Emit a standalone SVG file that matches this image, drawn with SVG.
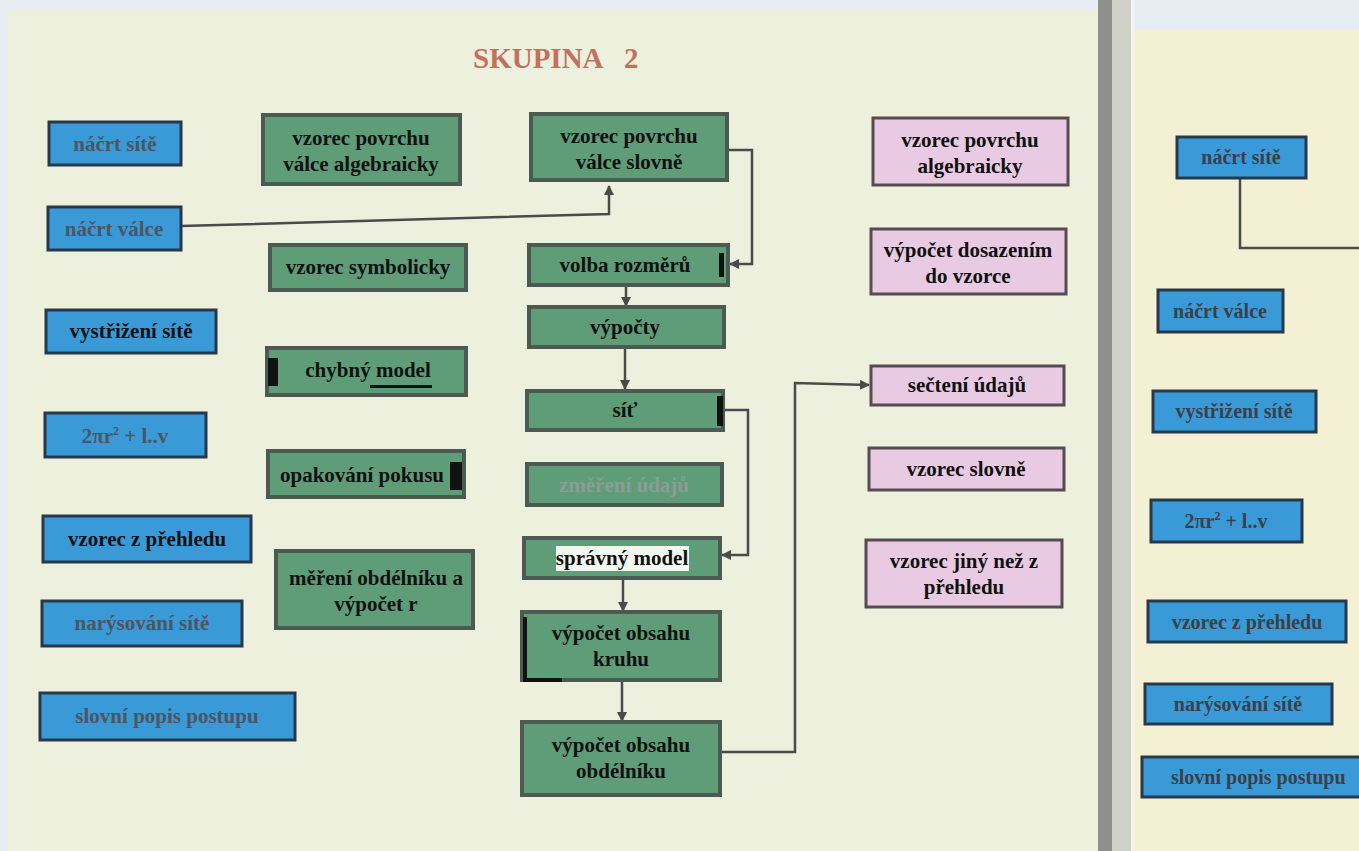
<svg xmlns="http://www.w3.org/2000/svg" width="1359" height="851" viewBox="0 0 1359 851">
  <style>
    .t { font-family: "Liberation Serif", "Times New Roman", serif; font-weight: bold; font-size: 21px; text-anchor: middle; fill: #111; }
    .gray { fill: #4c5560; }
    .pale { fill: #8d9c94; }
    .rt { font-family: "Liberation Serif", "Times New Roman", serif; font-weight: bold; font-size: 20px; text-anchor: middle; fill: #3a3f48; }
    .rts { font-family: "Liberation Serif", "Times New Roman", serif; font-weight: bold; font-size: 20px; text-anchor: start; fill: #3a3f48; }
    .blue { fill: #3a9ad8; stroke: #27384a; stroke-width: 3; }
    .green { fill: #5f9c78; stroke: #4d5a52; stroke-width: 4; }
    .pink { fill: #e8cbe3; stroke: #574b52; stroke-width: 3; }
    .edge { fill: none; stroke: #4a4a4a; stroke-width: 2.5; }
    .title { font-family: "Liberation Serif", "Times New Roman", serif; font-weight: bold; font-size: 29px; fill: #c5705f; }
  </style>
  <defs>
    <marker id="arr" viewBox="0 0 10 10" refX="9" refY="5" markerWidth="4" markerHeight="4" orient="auto">
      <path d="M0,0 L10,5 L0,10 z" fill="#4a4a4a"/>
    </marker>
  </defs>

  <!-- paper and binding -->
  <rect x="0" y="0" width="1359" height="851" fill="#e7edf2"/>
  <rect x="8" y="10" width="1095" height="841" fill="#edf0dc"/>
  <rect x="1098" y="0" width="14" height="851" fill="#8f8f8c"/>
  <rect x="1112" y="0" width="22" height="851" fill="#cfd0c8"/>
  <rect x="1131" y="0" width="3" height="851" fill="#f2f4f4"/>
  <rect x="1134" y="30" width="225" height="821" fill="#f4f0d3"/>

  <text class="title" x="473" y="68">SKUPINA<tspan x="624">2</tspan></text>

  <!-- connectors -->
  <g id="connectors">
    <path class="edge" d="M181,226 L609,214 L609,186" marker-end="url(#arr)"/>
    <path class="edge" d="M727,150 L752,150 L752,264 L730,264" marker-end="url(#arr)"/>
    <path class="edge" d="M626,285 L626,306" marker-end="url(#arr)"/>
    <path class="edge" d="M625,347 L625,389" marker-end="url(#arr)"/>
    <path class="edge" d="M723,410 L748,410 L748,555 L722,555" marker-end="url(#arr)"/>
    <path class="edge" d="M623,578 L623,611" marker-end="url(#arr)"/>
    <path class="edge" d="M622,680 L622,721" marker-end="url(#arr)"/>
    <path class="edge" d="M720,752 L795,752 L795,383 L869,385" marker-end="url(#arr)"/>
    <path class="edge" d="M1240,178 L1240,248 L1359,248"/>
  </g>

  <!-- blue column -->
  <g id="n1"><rect class="blue" x="49" y="122" width="132" height="43"/><text class="t gray" x="115" y="151">náčrt sítě</text></g>
  <g id="n2"><rect class="blue" x="48" y="207" width="133" height="43"/><text class="t gray" x="114" y="236">náčrt válce</text></g>
  <g id="n3"><rect class="blue" x="46" y="310" width="170" height="43"/><text class="t" x="131" y="338">vystřižení sítě</text></g>
  <g id="n4"><rect class="blue" x="45" y="413" width="161" height="44"/><text class="t gray" x="125" y="443">2πr<tspan font-size="12" dy="-8">2</tspan><tspan dy="8"> + l..v</tspan></text></g>
  <g id="n5"><rect class="blue" x="43" y="516" width="208" height="46"/><text class="t" x="147" y="546">vzorec z přehledu</text></g>
  <g id="n6"><rect class="blue" x="42" y="601" width="200" height="45"/><text class="t gray" x="142" y="630">narýsování sítě</text></g>
  <g id="n7"><rect class="blue" x="40" y="693" width="255" height="47"/><text class="t gray" x="167" y="723">slovní popis postupu</text></g>

  <!-- green column -->
  <g id="n8"><rect class="green" x="263" y="115" width="197" height="69"/><text class="t" x="361" y="145">vzorec povrchu</text><text class="t" x="361" y="171">válce algebraicky</text></g>
  <g id="n9"><rect class="green" x="270" y="245" width="196" height="45"/><text class="t" x="368" y="274">vzorec symbolicky</text></g>
  <g id="n10"><rect class="green" x="267" y="348" width="199" height="47"/><rect x="268" y="358" width="10" height="28" fill="#111"/><rect x="370" y="385" width="62" height="3" fill="#111"/><text class="t" x="368" y="377">chybný model</text></g>
  <g id="n11"><rect class="green" x="268" y="451" width="196" height="46"/><rect x="450" y="462" width="12" height="28" fill="#111"/><text class="t" x="362" y="482">opakování pokusu</text></g>
  <g id="n12"><rect class="green" x="276" y="551" width="197" height="77"/><text class="t" x="376" y="585">měření obdélníku a</text><text class="t" x="376" y="611">výpočet r</text></g>

  <!-- centre column -->
  <g id="n13"><rect class="green" x="531" y="114" width="196" height="66"/><text class="t" x="629" y="143">vzorec povrchu</text><text class="t" x="629" y="169">válce slovně</text></g>
  <g id="n14"><rect class="green" x="529" y="245" width="199" height="40"/><rect x="719" y="253" width="5" height="24" fill="#111"/><text class="t" x="625" y="272">volba rozměrů</text></g>
  <g id="n15"><rect class="green" x="529" y="307" width="195" height="40"/><text class="t" x="625" y="334">výpočty</text></g>
  <g id="n16"><rect class="green" x="527" y="391" width="196" height="39"/><rect x="717" y="396" width="6" height="30" fill="#111"/><text class="t" x="625" y="417">síť</text></g>
  <g id="n17"><rect class="green" x="527" y="464" width="195" height="41"/><text class="t pale" x="624" y="492">změření údajů</text></g>
  <g id="n18"><rect class="green" x="524" y="538" width="196" height="40"/><rect x="556" y="546" width="133" height="25" fill="#f4f6f0"/><text class="t" x="622" y="565">správný model</text></g>
  <g id="n19"><rect class="green" x="522" y="612" width="198" height="68"/><path d="M525,617 L525,680 L562,680" fill="none" stroke="#111" stroke-width="4"/><text class="t" x="621" y="640">výpočet obsahu</text><text class="t" x="621" y="666">kruhu</text></g>
  <g id="n20"><rect class="green" x="522" y="722" width="198" height="73"/><text class="t" x="621" y="752">výpočet obsahu</text><text class="t" x="621" y="778">obdélníku</text></g>

  <!-- pink column -->
  <g id="n21"><rect class="pink" x="873" y="118" width="195" height="67"/><text class="t" x="970" y="147">vzorec povrchu</text><text class="t" x="970" y="173">algebraicky</text></g>
  <g id="n22"><rect class="pink" x="871" y="229" width="195" height="65"/><text class="t" x="968" y="257">výpočet dosazením</text><text class="t" x="968" y="283">do vzorce</text></g>
  <g id="n23"><rect class="pink" x="871" y="366" width="193" height="39"/><text class="t" x="967" y="392">sečtení údajů</text></g>
  <g id="n24"><rect class="pink" x="869" y="448" width="195" height="42"/><text class="t" x="966" y="476">vzorec slovně</text></g>
  <g id="n25"><rect class="pink" x="866" y="540" width="196" height="67"/><text class="t" x="964" y="568">vzorec jiný než z</text><text class="t" x="964" y="594">přehledu</text></g>

  <!-- facing page -->
  <g id="n26"><rect class="blue" x="1177" y="137" width="129" height="41"/><text class="rt" x="1241" y="164">náčrt sítě</text></g>
  <g id="n27"><rect class="blue" x="1158" y="290" width="125" height="42"/><text class="rt" x="1220" y="318">náčrt válce</text></g>
  <g id="n28"><rect class="blue" x="1153" y="391" width="163" height="41"/><text class="rt" x="1234" y="418">vystřižení sítě</text></g>
  <g id="n29"><rect class="blue" x="1151" y="500" width="151" height="42"/><text class="rt" x="1226" y="528">2πr<tspan font-size="12" dy="-8">2</tspan><tspan dy="8"> + l..v</tspan></text></g>
  <g id="n30"><rect class="blue" x="1148" y="601" width="198" height="41"/><text class="rt" x="1247" y="629">vzorec z přehledu</text></g>
  <g id="n31"><rect class="blue" x="1145" y="684" width="187" height="40"/><text class="rt" x="1238" y="711">narýsování sítě</text></g>
  <g id="n32"><rect class="blue" x="1142" y="757" width="220" height="40"/><text class="rts" x="1171" y="784">slovní popis postupu</text></g>
</svg>
